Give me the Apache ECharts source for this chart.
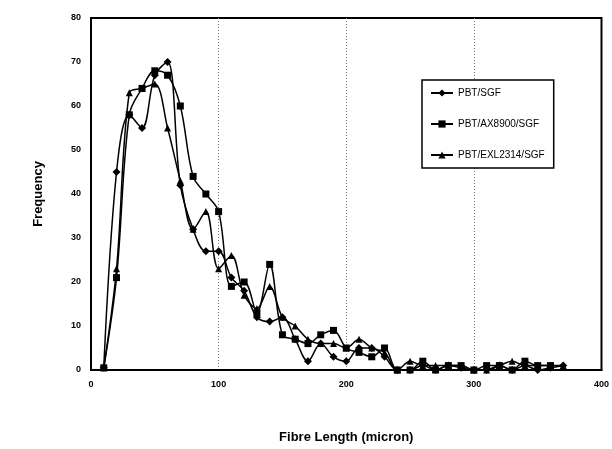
<!DOCTYPE html>
<html>
<head>
<meta charset="utf-8">
<script src="https://cdn.jsdelivr.net/npm/echarts@6/dist/echarts.min.js"></script>
<style>
  html, body { margin: 0; padding: 0; background: #fff; }
  #chart { width: 612px; height: 449px; }
</style>
</head>
<body>
<div id="chart"></div>
<script>
// fibre length bins (micron)
const lengths = [10, 20, 30, 40, 50, 60, 70, 80, 90, 100, 110, 120, 130, 140, 150, 160, 170, 180, 190,
  200, 210, 220, 230, 240, 250, 260, 270, 280, 290, 300, 310, 320, 330, 340, 350, 360, 370];

const sgf = [0.5, 45, 58, 55, 67, 70, 42, 32, 27, 27, 21, 18, 12, 11, 12, 7, 2, 6, 3,
  2, 5, 5, 3, 0, 0, 1, 0, 1, 0.5, 0, 0, 1, 0, 1, 0, 0.5, 1];
const ax8900 = [0.5, 21, 58, 64, 68, 67, 60, 44, 40, 36, 19, 20, 13, 24, 8, 7, 6, 8, 9,
  5, 4, 3, 5, 0, 0, 2, 0, 1, 1, 0, 1, 1, 0, 2, 1, 1];
const exl2314 = [0.5, 23, 63, 64, 65, 55, 43, 32, 36, 23, 26, 17, 14, 19, 12, 10, 7, 6, 6,
  5, 7, 5, 4, 0, 2, 1, 1, 1, 1, 0, 0, 1, 2, 1, 1, 1, 1];

const seriesNames = ['PBT/SGF', 'PBT/AX8900/SGF', 'PBT/EXL2314/SGF'];
const xTicks = [0, 100, 200, 300, 400];
const yTicks = [0, 10, 20, 30, 40, 50, 60, 70, 80];

const pairs = (vals) => vals.map((v, i) => [lengths[i], v]);

const makeSeries = (name, vals, symbol, size) => ({
  name,
  type: 'line',
  data: pairs(vals),
  smooth: 0.35,
  symbol,
  symbolSize: size,
  itemStyle: { color: '#000' },
  lineStyle: { color: '#000', width: 1.5 },
  emphasis: { disabled: true }
});

const chart = echarts.init(document.getElementById('chart'));

chart.setOption({
  animation: false,
  textStyle: { fontFamily: 'Liberation Sans, Arial, sans-serif' },
  grid: {
    left: 91, right: 9, top: 18, bottom: 78,
    show: true, borderColor: '#000', borderWidth: 2
  },
  legend: {
    data: seriesNames,
    orient: 'vertical',
    left: 422,
    top: 80,
    itemWidth: 22,
    itemHeight: 9,
    itemGap: 21,
    padding: [8, 9, 8, 8],
    borderColor: '#000',
    borderWidth: 1.5,
    backgroundColor: '#fff',
    textStyle: { color: '#000', fontSize: 10, fontFamily: 'Liberation Sans, Arial, sans-serif' }
  },
  xAxis: {
    type: 'value',
    min: xTicks[0],
    max: xTicks[xTicks.length - 1],
    interval: 100,
    name: 'Fibre Length (micron)',
    nameLocation: 'middle',
    nameGap: 61,
    nameTextStyle: { fontSize: 13, fontWeight: 'bold', color: '#000' },
    axisLine: { lineStyle: { color: '#000', width: 2 } },
    axisTick: { show: false },
    axisLabel: { color: '#000', fontSize: 9, fontWeight: 'bold', margin: 10 },
    splitLine: {
      show: true, showMinLine: false, showMaxLine: false,
      lineStyle: { color: '#777', type: [1, 2], width: 1 }
    }
  },
  yAxis: {
    type: 'value',
    min: yTicks[0],
    max: yTicks[yTicks.length - 1],
    interval: 10,
    name: 'Frequency',
    nameLocation: 'middle',
    nameGap: 46,
    nameTextStyle: { fontSize: 13, fontWeight: 'bold', color: '#000' },
    axisLine: { show: true, lineStyle: { color: '#000', width: 2 } },
    axisTick: { show: false },
    axisLabel: { color: '#000', fontSize: 9, fontWeight: 'bold', margin: 10 },
    splitLine: { show: false }
  },
  series: [
    makeSeries(seriesNames[0], sgf, 'diamond', 8),
    makeSeries(seriesNames[1], ax8900, 'rect', 7),
    makeSeries(seriesNames[2], exl2314, 'triangle', 7)
  ]
});
</script>
</body>
</html>
